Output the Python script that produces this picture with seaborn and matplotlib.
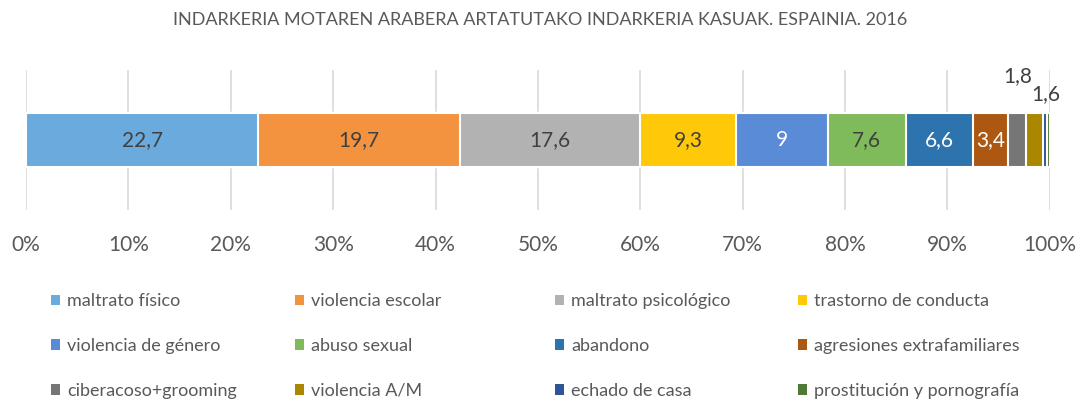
import numpy as np
import pandas as pd
import matplotlib
matplotlib.use("Agg")
import matplotlib.pyplot as plt
import seaborn as sns
from matplotlib.patches import Patch

# data
categories = ["maltrato físico", "violencia escolar", "maltrato psicológico", "trastorno de conducta",
              "violencia de género", "abuso sexual", "abandono", "agresiones extrafamiliares",
              "ciberacoso+grooming", "violencia A/M", "echado de casa", "prostitución y pornografía"]
values = [22.7, 19.7, 17.6, 9.3, 9, 7.6, 6.6, 3.4, 1.8, 1.6, 0.4, 0.3]
labels = ["22,7", "19,7", "17,6", "9,3", "9", "7,6", "6,6", "3,4", "1,8", "1,6", "", ""]
colors = ["#6aaadc", "#f3923f", "#b2b2b2", "#ffc90a", "#5a8bd6", "#80bb5b",
          "#2d73ad", "#ad5812", "#767676", "#ab8700", "#2f5597", "#4e7a34"]
label_colors = ["#404040", "#404040", "#404040", "#404040", "white", "#404040",
                "white", "white", "#404040", "#404040", "#404040", "#404040"]
title = "INDARKERIA MOTAREN ARABERA ARTATUTAKO INDARKERIA KASUAK. ESPAINIA. 2016"

sns.set_theme(style="white")
plt.rcParams["font.family"] = ["Lato", "DejaVu Sans"]

df = pd.DataFrame({"cat": categories, "val": values})
df["pct"] = df["val"] / df["val"].sum() * 100
df["cum"] = df["pct"].cumsum()
df["mid"] = df["cum"] - df["pct"] / 2

fig = plt.figure(figsize=(10.8, 4.03), dpi=100)
ax = fig.add_axes([0.0241, 0.479, 0.948, 0.347])

# stacked bar: draw cumulative widths from longest to shortest
for i in range(len(df) - 1, -1, -1):
    sns.barplot(x=[df["cum"][i]], y=["a"], orient="h", color=colors[i], width=0.38,
                edgecolor="white", linewidth=1.5, saturation=1, ax=ax, zorder=3)

for i, row in df.iterrows():
    if labels[i] == "":
        continue
    if row["pct"] < 3:
        # small segments: label above the bar
        dy = -0.46 if i == 8 else -0.33
        dx = 0.1 if i == 8 else 1.1
        ax.text(row["mid"] + dx, dy, labels[i], ha="center", va="center", fontsize=15, color="#404040")
    else:
        ax.text(row["mid"], 0, labels[i], ha="center", va="center", fontsize=15, color=label_colors[i])

ax.set_xlim(0, 100)
ax.set_ylim(0.5, -0.5)
ax.set_xticks(np.arange(0, 101, 10))
ax.set_xticklabels([f"{t}%" for t in range(0, 101, 10)])
ax.tick_params(axis="x", labelsize=15, colors="#595959", pad=18, length=0)
ax.set_yticks([])
ax.set_xlabel("")
ax.set_ylabel("")
ax.grid(axis="x", color="#d9d9d9", linewidth=1.2, zorder=0)
for s in ax.spines.values():
    s.set_visible(False)

fig.text(0.5, 1 - 20 / 403, title, ha="center", va="center", fontsize=13, color="#595959")

handles = [Patch(facecolor=c, edgecolor="none") for c in colors]
col_x = [51, 295, 555, 798]
for c in range(4):
    idx = [r * 4 + c for r in range(3)]
    fig.legend([handles[k] for k in idx], [categories[k] for k in idx], loc="center left",
               bbox_to_anchor=(col_x[c] / 1080, 1 - 346 / 403), frameon=False, fontsize=13,
               labelcolor="#595959", handlelength=0.5, handleheight=0.5, handletextpad=0.4,
               labelspacing=1.6, borderpad=0, borderaxespad=0)

fig.savefig("out.png", dpi=100)
